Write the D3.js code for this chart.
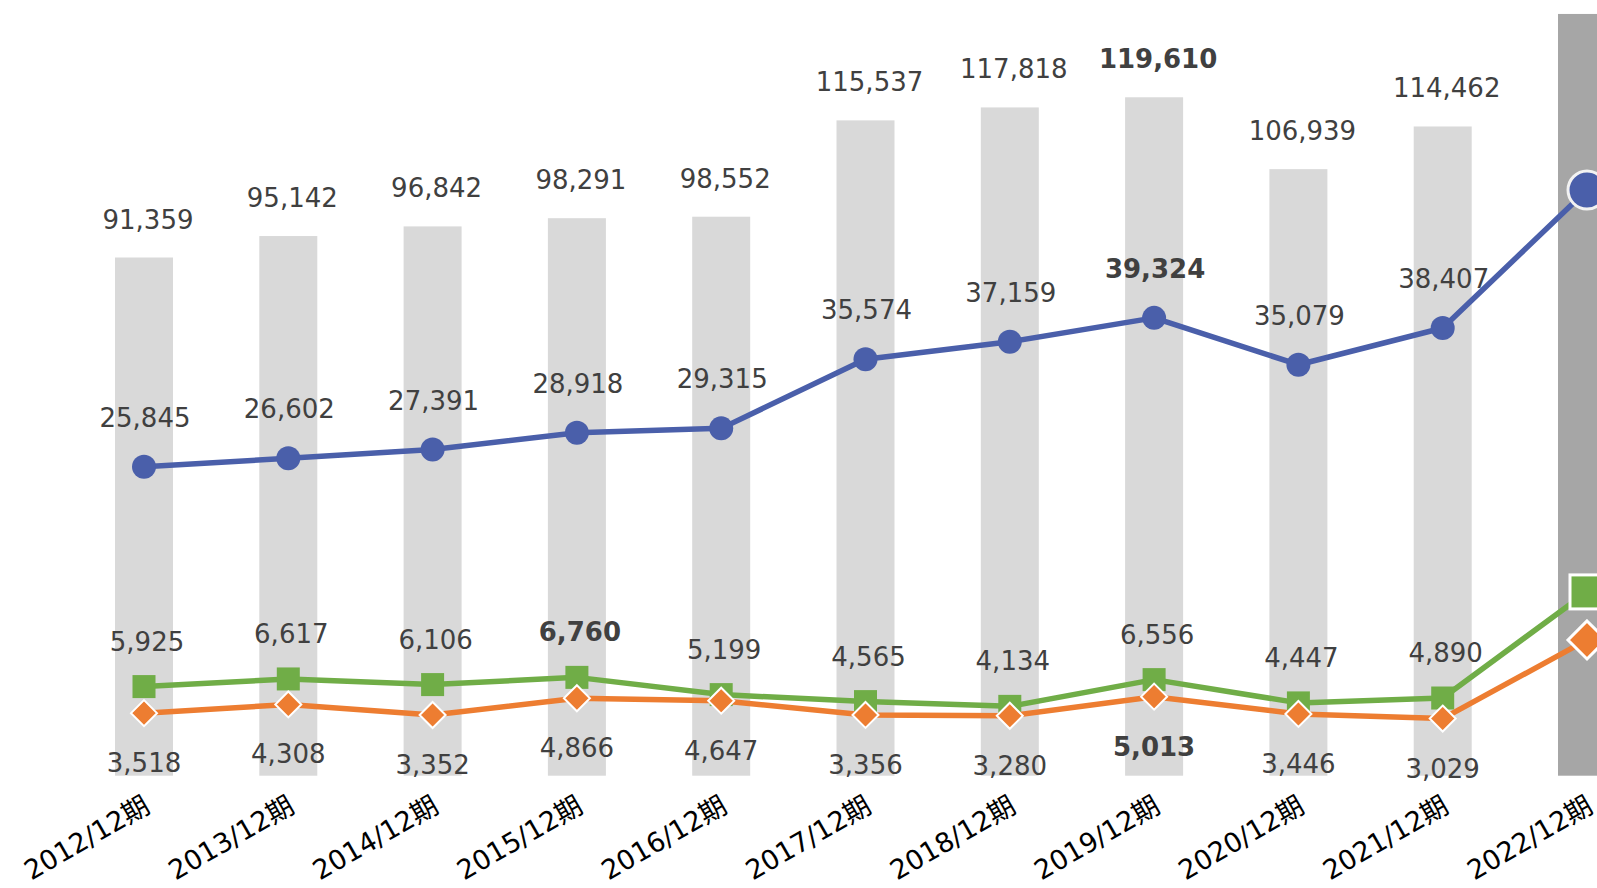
<!DOCTYPE html>
<html>
<head>
<meta charset="utf-8">
<script src="https://cdn.jsdelivr.net/npm/d3@7"></script>
<style>
  body { margin: 0; background: #fff; }
  svg { display: block; font-family: "DejaVu Sans", "Noto Sans CJK JP", sans-serif; }
</style>
</head>
<body>
<svg id="chart" width="1597" height="888"></svg>
<script>
// Periods and values (last period is only partly in view)
const periods = ["2012/12期", "2013/12期", "2014/12期", "2015/12期", "2016/12期", "2017/12期",
  "2018/12期", "2019/12期", "2020/12期", "2021/12期", "2022/12期"];
const barValues = [91359, 95142, 96842, 98291, 98552, 115537, 117818, 119610, 106939, 114462, 134300];
const blueValues = [25845, 26602, 27391, 28918, 29315, 35574, 37159, 39324, 35079, 38407, 50900];
const greenValues = [5925, 6617, 6106, 6760, 5199, 4565, 4134, 6556, 4447, 4890, 14500];
const orangeValues = [3518, 4308, 3352, 4866, 4647, 3356, 3280, 5013, 3446, 3029, 10150];

const width = 1597, height = 888;
const svg = d3.select("#chart");
const last = periods.length - 1;
const labelColor = "#404040";
const fmt = d3.format(",");

const x = d3.scaleBand()
  .domain(periods)
  .range([71.85, 71.85 + 144.3 * periods.length])
  .padding(0);
const cx = d => x(d) + x.bandwidth() / 2;
const barW = 58;

// primary axis (bars) and secondary axis (lines)
const yBar = d3.scaleLinear().domain([0, 140000]).range([775.7, 775.7 - 140000 * 0.005672]);
const yLine = d3.scaleLinear().domain([0, 70000]).range([752, 752 - 70000 * 0.01104]);

// Bars
svg.append("g").selectAll("rect")
  .data(periods)
  .join("rect")
  .attr("x", d => cx(d) - barW / 2)
  .attr("width", barW)
  .attr("y", (d, i) => yBar(barValues[i]))
  .attr("height", (d, i) => yBar(0) - yBar(barValues[i]))
  .attr("fill", (d, i) => i === last ? "#a6a6a6" : "#d9d9d9");

const series = [
  { name: "blue", values: blueValues, color: "#4a5faa" },
  { name: "green", values: greenValues, color: "#70ad47" },
  { name: "orange", values: orangeValues, color: "#ed7d31" }
];

const line = d3.line()
  .x(d => cx(d.p))
  .y(d => yLine(d.v));

series.forEach(s => {
  const pts = periods.map((p, i) => ({ p, v: s.values[i], i }));
  svg.append("path")
    .datum(pts)
    .attr("fill", "none")
    .attr("stroke", s.color)
    .attr("stroke-width", 5.5)
    .attr("stroke-linejoin", "round")
    .attr("d", line);

  const g = svg.append("g");
  pts.forEach(d => {
    const big = d.i === last;
    const px = cx(d.p), py = yLine(d.v);
    if (s.name === "blue") {
      g.append("circle")
        .attr("cx", px).attr("cy", py)
        .attr("r", big ? 19 : 12)
        .attr("fill", s.color)
        .attr("stroke", big ? "#f2f2f2" : "none")
        .attr("stroke-width", 3);
    } else if (s.name === "green") {
      const h = big ? 17 : 11.5;
      g.append("rect")
        .attr("x", px - h).attr("y", py - h)
        .attr("width", h * 2).attr("height", h * 2)
        .attr("fill", s.color)
        .attr("stroke", big ? "#fff" : "none")
        .attr("stroke-width", 3);
    } else {
      const h = big ? 19 : 13;
      g.append("path")
        .attr("d", `M${px},${py - h}L${px + h},${py}L${px},${py + h}L${px - h},${py}Z`)
        .attr("fill", s.color)
        .attr("stroke", "#fff")
        .attr("stroke-width", big ? 3 : 2);
    }
  });
});

// Data labels (the last period has none in view)
const maxIdx = arr => arr.slice(0, last).indexOf(d3.max(arr.slice(0, last)));

function addLabels(values, yFn, offset, dx) {
  const m = maxIdx(values);
  svg.append("g").selectAll("text")
    .data(periods.slice(0, last))
    .join("text")
    .attr("x", d => cx(d) + dx)
    .attr("y", (d, i) => yFn(values[i]) + offset)
    .attr("text-anchor", "middle")
    .attr("fill", labelColor)
    .style("font-size", "26px")
    .style("font-weight", (d, i) => i === m ? "bold" : "normal")
    .text((d, i) => fmt(values[i]));
}

addLabels(barValues, yBar, -29, 4);
addLabels(blueValues, yLine, -40, 1);
addLabels(greenValues, yLine, -36, 3);
addLabels(orangeValues, yLine, 59, 0);

// Category labels, rotated
svg.append("g").selectAll("text")
  .data(periods)
  .join("text")
  .attr("transform", d => `translate(${cx(d) + 3},${803}) rotate(-30)`)
  .attr("text-anchor", "end")
  .attr("dy", "0.35em")
  .attr("fill", "#000")
  .style("font-size", "27px")
  .text(d => d);
</script>
</body>
</html>
